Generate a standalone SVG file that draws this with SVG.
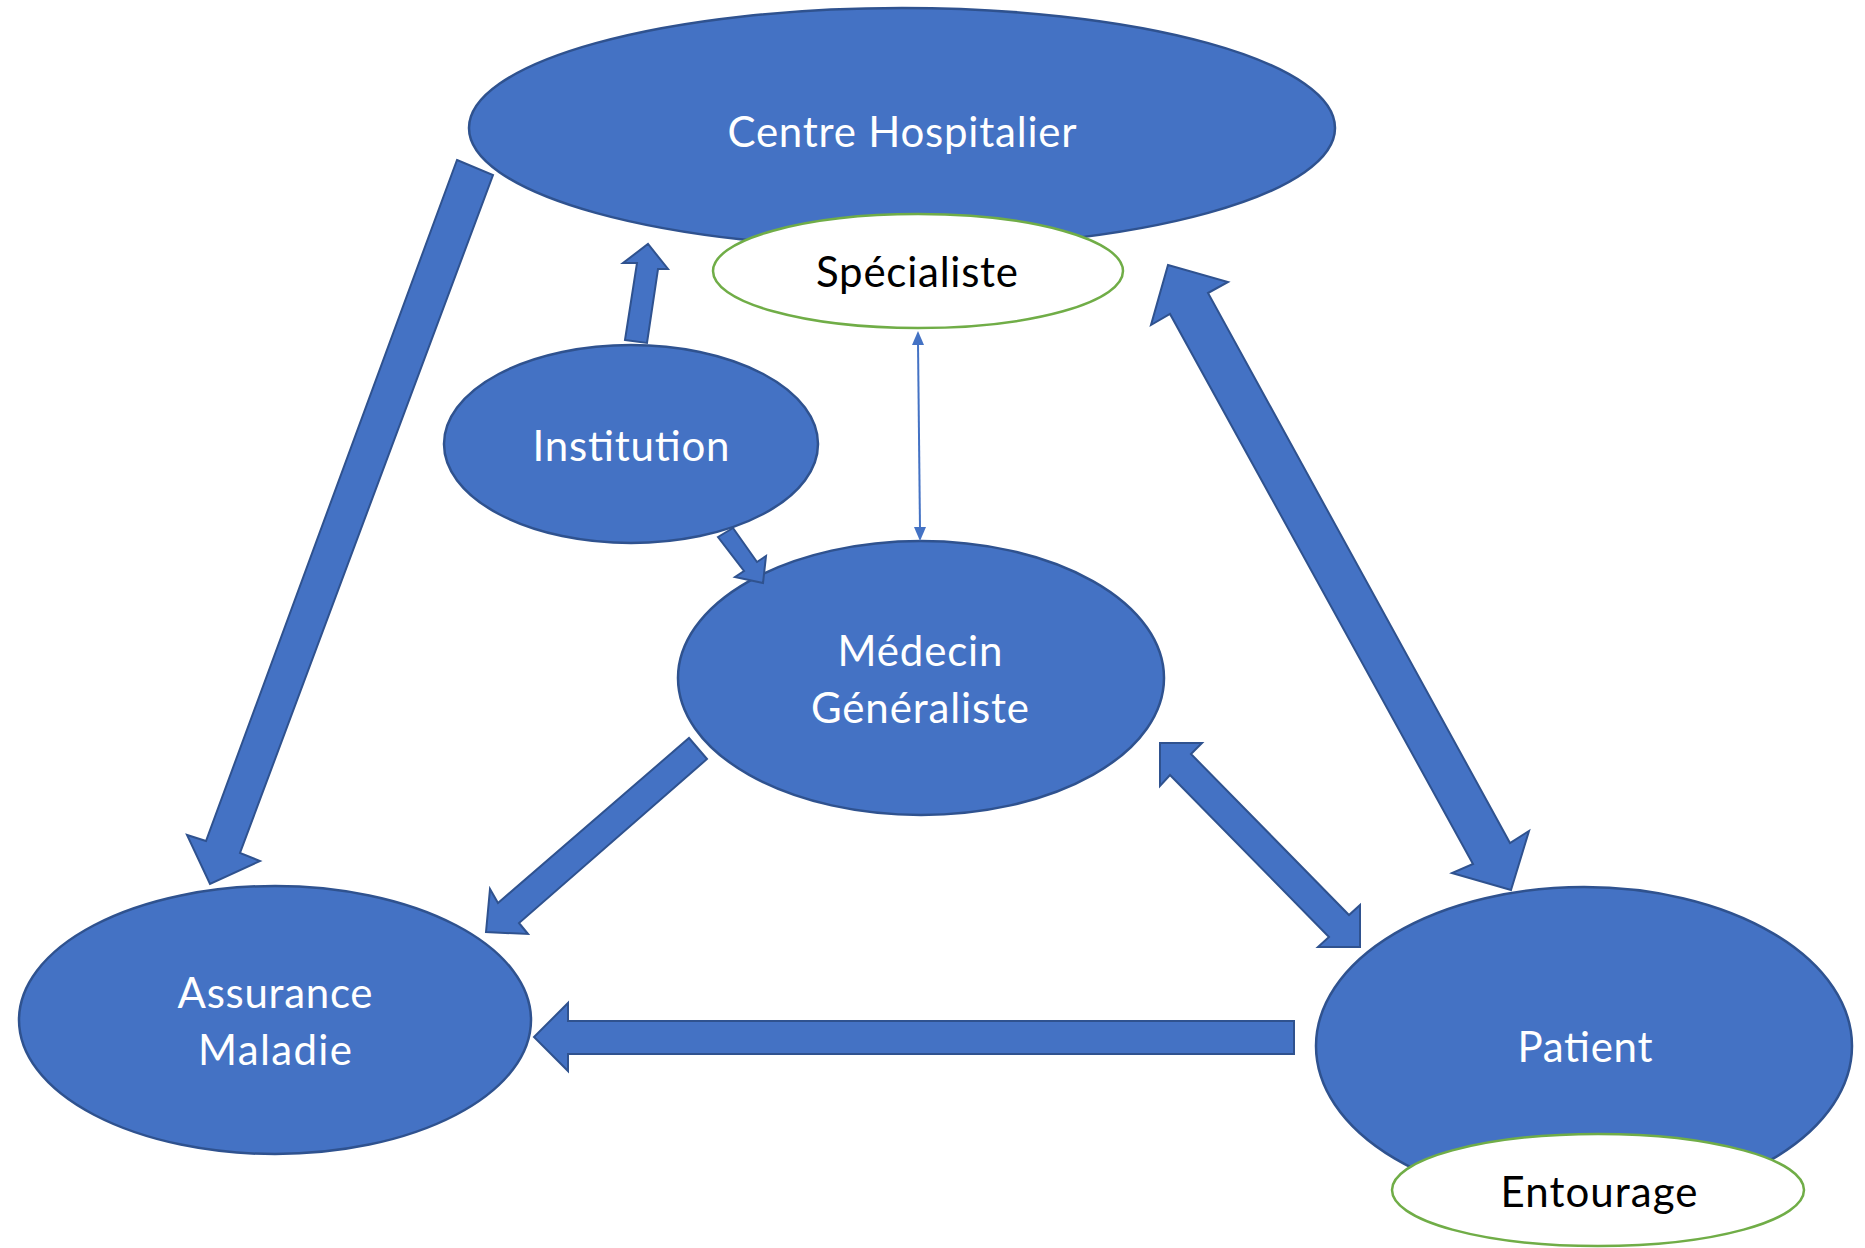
<svg xmlns="http://www.w3.org/2000/svg" width="1865" height="1248" viewBox="0 0 1865 1248">
<style>
.node{fill:#4472C4;stroke:#2F528F;stroke-width:2.5}
.sub{fill:#FFFFFF;stroke:#70AD47;stroke-width:2.5}
.arrow{fill:#4472C4;stroke:#2F528F;stroke-width:2;stroke-linejoin:miter}
.lbl{font-family:Lato,"Open Sans","Liberation Sans",sans-serif;font-size:42px;text-anchor:middle}
.w{fill:#FFFFFF}
.k{fill:#000000}
</style>
<rect width="1865" height="1248" fill="#FFFFFF"/>
<g id="centre-hospitalier">
<ellipse class="node" cx="902" cy="128" rx="433" ry="120"/>
<text class="lbl w" x="902" y="147" textLength="349">Centre Hospitalier</text>
</g>
<g id="specialiste">
<ellipse class="sub" cx="918" cy="271" rx="205" ry="57"/>
<text class="lbl k" x="917" y="287" textLength="202">Spécialiste</text>
</g>
<g id="institution">
<ellipse class="node" cx="631" cy="444" rx="187" ry="99"/>
<text class="lbl w" x="631" y="461" textLength="197">Institution</text>
</g>
<g id="medecin-generaliste">
<ellipse class="node" cx="921" cy="678" rx="243" ry="137"/>
<text class="lbl w" x="920" y="666" textLength="165">Médecin</text>
<text class="lbl w" x="920" y="723" textLength="218">Généraliste</text>
</g>
<g id="assurance-maladie">
<ellipse class="node" cx="275" cy="1020" rx="256" ry="134"/>
<text class="lbl w" x="275" y="1008" textLength="195">Assurance</text>
<text class="lbl w" x="275" y="1065" textLength="154">Maladie</text>
</g>
<g id="patient">
<ellipse class="node" cx="1584" cy="1046" rx="268" ry="159"/>
<text class="lbl w" x="1585" y="1062" textLength="135">Patient</text>
</g>
<g id="entourage">
<ellipse class="sub" cx="1598" cy="1190" rx="206" ry="56"/>
<text class="lbl k" x="1599" y="1207" textLength="197">Entourage</text>
</g>
<g id="connectors">
<polygon class="arrow" points="457,160 493,175 240,853 260,861 210,884 187,835 206,841"/>
<polygon class="arrow" points="625,340 647,343 658,269 668,269 648,244 623,263 637,263"/>
<polygon class="arrow" points="718,537 733,528 757,562 766,556 763,583 735,577 744,571"/>
<polygon class="arrow" points="689,738 707,759 519,923 528,934 486,932 490,889 498,903"/>
<polygon class="arrow" points="1294,1021 1294,1054 568,1054 568,1071 534,1037 568,1003 568,1021"/>
<polygon class="arrow" points="1160,743 1202,743 1191,754 1349,915 1360,905 1360,947 1318,947 1329,937 1170,775 1160,786"/>
<polygon class="arrow" points="1168,265 1228,282 1208,293 1510,843 1529,831 1511,890 1452,873 1473,864 1170,314 1151,325"/>
<line x1="918" y1="343" x2="920" y2="529" stroke="#4472C4" stroke-width="2"/>
<polygon points="918,331 912,345 924,345" fill="#4472C4"/>
<polygon points="920,541 914,527 926,527" fill="#4472C4"/>
</g>
</svg>
